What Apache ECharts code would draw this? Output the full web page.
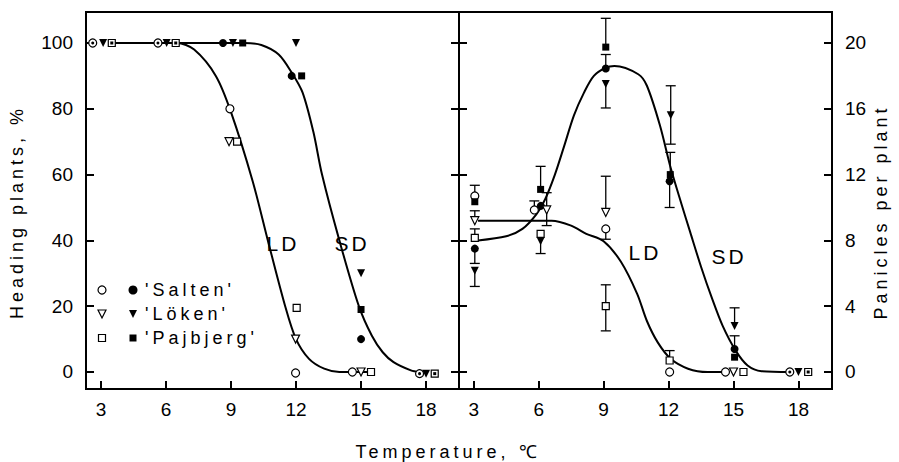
<!DOCTYPE html>
<html>
<head>
<meta charset="utf-8">
<script src="https://cdn.jsdelivr.net/npm/echarts@6/dist/echarts.min.js"></script>
<style>
  html, body { margin: 0; padding: 0; background: #fff; }
  #chart { width: 899px; height: 462px; }
</style>
</head>
<body>
<div id="chart"></div>
<script>
// ticks
const xTicks = [3, 6, 9, 12, 15, 18];
const headTicks = [0, 20, 40, 60, 80, 100];
const panTicks = [0, 4, 8, 12, 16, 20];

// left panel: heading plants, %   ([temperature, value])
const headSaltenLD = [[8.95, 80], [11.98, -0.3], [14.6, 0]];
const headSaltenSD = [[8.63, 100], [11.8, 90], [15.0, 10]];
const headSaltenBoth = [[2.62, 100], [5.63, 100], [17.7, -0.5]];
const headLokenLD = [[8.91, 70], [11.98, 10], [15.0, 0]];
const headLokenSD = [[9.09, 100], [12.0, 100], [15.0, 30]];
const headLokenBoth = [[3.1, 100], [6.03, 100], [18.0, -0.5]];
const headPajLD = [[9.28, 70], [12.03, 19.5], [15.46, 0]];
const headPajSD = [[9.54, 100], [12.26, 90], [15.0, 19]];
const headPajBoth = [[3.5, 100], [6.45, 100], [18.4, -0.5]];
const headCurveLD = [[3.5, 100], [6.5, 100], [7.3, 98], [8.3, 90], [9, 79], [10, 58], [10.7, 40],
  [11.5, 20], [12, 10], [12.6, 4], [13.3, 1], [14, 0], [15.4, 0]];
const headCurveSD = [[3.5, 100], [9.6, 100], [10.4, 99.4], [11.2, 96.5], [11.8, 91], [12.3, 85],
  [12.8, 73], [13.2, 60], [14, 40], [14.9, 20], [15.5, 11], [16, 6], [16.5, 3], [17.3, 0.5], [17.7, 0]];

// right panel: panicles per plant
const panSaltenLD = [[3.05, 10.7], [5.8, 9.85], [9.1, 8.7], [12.05, 0], [14.63, 0]];
const panSaltenSD = [[3.05, 7.5], [6.1, 10.1], [9.1, 18.45], [12.05, 11.6], [15.05, 1.4]];
const panSaltenBoth = [[17.6, 0]];
const panLokenLD = [[3.05, 9.2], [6.37, 9.85], [9.1, 9.7], [15.0, 0]];
const panLokenSD = [[3.05, 6.15], [6.09, 7.95], [9.1, 17.5], [12.1, 15.6], [15.05, 2.8]];
const panLokenBoth = [[18.0, 0]];
const panPajLD = [[3.05, 8.15], [6.09, 8.4], [9.1, 4.0], [12.05, 0.7], [15.46, 0]];
const panPajSD = [[3.05, 10.35], [6.09, 11.1], [9.1, 19.75], [12.08, 12.0], [15.05, 0.9]];
const panPajBoth = [[18.45, 0]];
// [temperature, from (point), to (cap)]
const panErrors = [
  [3.05, 10.7, 11.35], [3.05, 9.2, 9.8], [3.05, 8.15, 8.7], [3.05, 7.5, 6.6], [3.05, 6.15, 5.2],
  [6.09, 11.1, 12.5], [5.8, 9.85, 10.4], [6.37, 9.85, 10.9], [6.37, 9.85, 8.9], [6.09, 7.95, 7.2],
  [9.1, 19.75, 21.5], [9.1, 18.45, 19.3], [9.1, 17.5, 16.05], [9.1, 9.7, 11.9], [9.1, 8.7, 8.07],
  [9.1, 4.0, 5.3], [9.1, 4.0, 2.5],
  [12.1, 15.6, 17.4], [12.1, 15.6, 13.85], [12.08, 12.0, 13.35], [12.05, 11.6, 10.0], [12.05, 0.7, 1.3],
  [15.05, 2.8, 3.9], [15.05, 1.4, 2.2]
];
const panCurveLD = [[3.2, 9.2], [6.6, 9.2], [7.5, 8.9], [8.2, 8.4], [9, 7.95], [9.8, 6.7], [10.55, 4.75],
  [11, 3.1], [11.5, 1.8], [12.1, 0.8], [12.9, 0.2], [13.8, 0], [14.6, 0]];
const panCurveSD = [[3.2, 8.0], [4.5, 8.25], [5.25, 8.7], [5.9, 9.6], [6.3, 10.5], [6.75, 12.0],
  [7.17, 13.7], [7.63, 15.6], [8.1, 17.0], [8.55, 18.0], [9.1, 18.5], [9.5, 18.6], [10.6, 18.1],
  [11.0, 17.4], [11.6, 15.0], [12.1, 12.4], [12.6, 10.2], [13.0, 8.5], [13.5, 6.4], [14.0, 4.5],
  [14.5, 2.8], [15.1, 1.3], [15.65, 0.4], [16.3, 0.05], [17.6, 0]];

const FONT = 'Liberation Sans';
const chart = echarts.init(document.getElementById('chart'), null, { renderer: 'svg' });

// scatter marks. side 0 = left panel, 1 = right panel
function marks(data, shape, filled, side, size) {
  return {
    type: 'scatter', data: data, z: 5,
    xAxisIndex: side, yAxisIndex: side ? 3 : 0,
    symbol: shape, symbolSize: size || (shape === 'rect' ? 7 : 8),
    symbolRotate: shape === 'triangle' ? 180 : 0,
    itemStyle: { color: filled ? '#000' : '#fff', borderColor: '#000', borderWidth: filled ? 0 : 1.2, opacity: 1 },
    emphasis: { disabled: true }
  };
}
function curve(data, side) {
  return {
    type: 'line', data: data, z: 3, smooth: 0.3, showSymbol: false,
    xAxisIndex: side, yAxisIndex: side ? 3 : 0,
    lineStyle: { color: '#000', width: 2 }
  };
}
function errItem(params, api) {
  const a = api.coord([api.value(0), api.value(1)]);
  const b = api.coord([api.value(0), api.value(2)]);
  const st = { stroke: '#000', lineWidth: 1.3 };
  return {
    type: 'group', children: [
      { type: 'line', shape: { x1: a[0], y1: a[1], x2: b[0], y2: b[1] }, style: st },
      { type: 'line', shape: { x1: b[0] - 5, y1: b[1], x2: b[0] + 5, y2: b[1] }, style: st }
    ]
  };
}
function xAx(grid, min, max) {
  return {
    type: 'value', gridIndex: grid, min: min, max: max,
    axisLine: { onZero: false, lineStyle: { color: '#000', width: 2 } },
    axisTick: { inside: true, length: 8, customValues: xTicks, lineStyle: { color: '#000', width: 2 } },
    axisLabel: { customValues: xTicks, margin: 11, fontSize: 19, color: '#000', fontFamily: FONT },
    splitLine: { show: false }
  };
}
function yAx(grid, pos, min, max, ticks, labels) {
  return {
    type: 'value', gridIndex: grid, position: pos, min: min, max: max,
    axisLine: { show: true, onZero: false, lineStyle: { color: '#000', width: 2 } },
    axisTick: { show: true, inside: true, length: 8, customValues: ticks, lineStyle: { color: '#000', width: 2 } },
    axisLabel: { show: labels, customValues: ticks, margin: 13, fontSize: 19, color: '#000', fontFamily: FONT },
    splitLine: { show: false }
  };
}
function txt(x, y, s, size, rot) {
  return {
    type: 'text', x: x, y: y, rotation: rot || 0,
    style: { text: s, fill: '#000', font: size + 'px "' + FONT + '"', align: 'center', verticalAlign: 'middle' }
  };
}
function legTxt(x, y, s) {
  return { type: 'text', x: x, y: y, style: { text: s, fill: '#000', font: '18px "' + FONT + '"', align: 'left', verticalAlign: 'middle' } };
}
const open = { fill: '#fff', stroke: '#000', lineWidth: 1.2 };
const full = { fill: '#000' };

chart.setOption({
  animation: false,
  backgroundColor: '#fff',
  grid: [
    { left: 86, top: 12, width: 373, height: 377, show: true, borderColor: '#000', borderWidth: 2 },
    { left: 459, top: 12, width: 373, height: 377, show: true, borderColor: '#000', borderWidth: 2 }
  ],
  xAxis: [xAx(0, 2.31, 19.52), xAx(1, 2.32, 19.55)],
  yAxis: [
    yAx(0, 'left', -5.17, 109.42, headTicks, true),
    yAx(0, 'right', -5.17, 109.42, headTicks, false),
    yAx(1, 'left', -1.034, 21.884, panTicks, false),
    yAx(1, 'right', -1.034, 21.884, panTicks, true)
  ],
  series: [
    curve(headCurveLD, 0), curve(headCurveSD, 0),
    curve(panCurveLD, 1), curve(panCurveSD, 1),
    {
      type: 'custom', xAxisIndex: 1, yAxisIndex: 3, z: 2, data: panErrors,
      encode: { x: 0, y: [1, 2] }, renderItem: errItem
    },
    marks(headSaltenLD, 'circle', false, 0), marks(headSaltenSD, 'circle', true, 0),
    marks(headLokenLD, 'triangle', false, 0), marks(headLokenSD, 'triangle', true, 0),
    marks(headPajLD, 'rect', false, 0), marks(headPajSD, 'rect', true, 0),
    marks(headSaltenBoth, 'circle', false, 0), marks(headSaltenBoth, 'circle', true, 0, 3),
    marks(headLokenBoth, 'triangle', true, 0),
    marks(headPajBoth, 'rect', false, 0), marks(headPajBoth, 'rect', true, 0, 3),
    marks(panSaltenLD, 'circle', false, 1), marks(panSaltenSD, 'circle', true, 1),
    marks(panLokenLD, 'triangle', false, 1), marks(panLokenSD, 'triangle', true, 1),
    marks(panPajLD, 'rect', false, 1), marks(panPajSD, 'rect', true, 1),
    marks(panSaltenBoth, 'circle', false, 1), marks(panSaltenBoth, 'circle', true, 1, 3),
    marks(panLokenBoth, 'triangle', true, 1),
    marks(panPajBoth, 'rect', false, 1), marks(panPajBoth, 'rect', true, 1, 3)
  ],
  graphic: [
    txt(17, 212, 'Heading plants, %', 18, Math.PI / 2),
    txt(881, 212, 'Panicles per plant', 18, Math.PI / 2),
    txt(448, 452, 'Temperature, ℃', 18),
    txt(283, 243, 'LD', 21), txt(352, 243, 'SD', 21),
    txt(645, 252, 'LD', 21), txt(729, 256, 'SD', 21),
    // legend
    { type: 'circle', shape: { cx: 102, cy: 290, r: 4 }, style: open },
    { type: 'circle', shape: { cx: 133, cy: 290, r: 4.5 }, style: full },
    { type: 'polygon', shape: { points: [[98, 310], [106, 310], [102, 318]] }, style: open },
    { type: 'polygon', shape: { points: [[129, 310], [137, 310], [133, 318]] }, style: full },
    { type: 'rect', shape: { x: 98.5, y: 334.5, width: 7, height: 7 }, style: open },
    { type: 'rect', shape: { x: 129.5, y: 334.5, width: 7, height: 7 }, style: full },
    legTxt(145, 290, "'Salten'"),
    legTxt(145, 314, "'Löken'"),
    legTxt(145, 338, "'Pajbjerg'")
  ]
});

// wide letter spacing of the original typesetting (tick numbers are not spaced)
function spaceText() {
  document.querySelectorAll('#chart svg text').forEach(function (t) {
    const s = t.textContent;
    if (/^\d+$/.test(s)) return;
    t.setAttribute('letter-spacing', /^[LS]D$/.test(s) ? '3px' : '4px');
  });
}
chart.on('finished', spaceText);
spaceText();
</script>
</body>
</html>
